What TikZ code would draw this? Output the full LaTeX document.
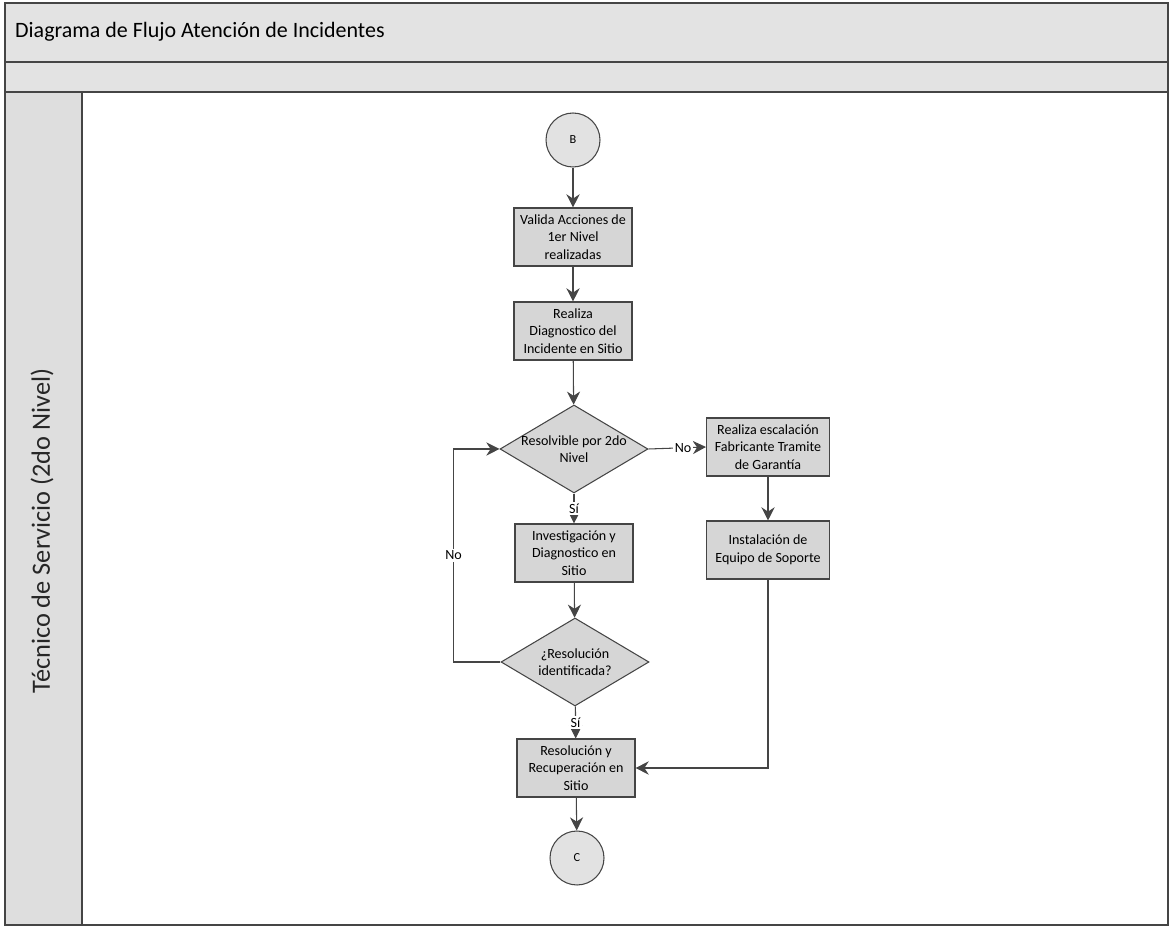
\documentclass[tikz,border=0pt]{standalone}
\usepackage{fontspec}
\setmainfont{Carlito}
\usetikzlibrary{shapes.geometric,arrows.meta}
\definecolor{bandgray}{HTML}{E3E3E3}
\definecolor{boxgray}{HTML}{D6D6D6}
\definecolor{circgray}{HTML}{E2E2E2}
\definecolor{linegray}{HTML}{454545}
\tikzset{
  stepbox/.style={draw=linegray, line width=0.6pt, fill=boxgray, minimum width=2.36cm, minimum height=1.16cm, align=center, inner sep=1pt, font=\fontsize{8}{10}\selectfont},
  dia/.style={draw=linegray, line width=0.6pt, fill=boxgray, shape=diamond, minimum width=2.96cm, minimum height=1.76cm, inner sep=0pt},
  dtext/.style={align=center, font=\fontsize{8}{10}\selectfont},
  conn/.style={draw=linegray, line width=0.6pt, fill=circgray, circle, minimum size=1.08cm, inner sep=0pt, font=\fontsize{7}{8}\selectfont},
  arr/.style={draw=linegray, line width=0.6pt, -{Stealth[length=7.5pt,width=7.5pt]}},
  lbl/.style={fill=white, inner sep=1pt, font=\fontsize{8}{9}\selectfont}
}
\begin{document}
\begin{tikzpicture}[x=0.02cm,y=-0.02cm]
\useasboundingbox (0,0) rectangle (1170,928);
% bands and lane
\path[fill=bandgray, draw=linegray, line width=0.6pt] (5,3) rectangle (1168,62);
\path[fill=bandgray, draw=linegray, line width=0.6pt] (5,62) rectangle (1168,92);
\path[fill=boxgray!80!white, draw=linegray, line width=0.6pt] (5,92) rectangle (82,925);
\draw[linegray, line width=0.6pt] (82,925) -- (1168,925) -- (1168,92);
\node[anchor=west, font=\fontsize{12.5}{14}\selectfont] (title) at (9,32) {Diagrama de Flujo Atención de Incidentes};
\node[rotate=90, text=black!85, font=\fontsize{15}{17}\selectfont] (lane) at (42,531) {Técnico de Servicio (2do Nivel)};
% nodes
\node[conn] (B) at (573,140) {B};
\node[stepbox] (b1) at (573,237) {Valida Acciones de\\1er Nivel\\realizadas};
\node[stepbox] (b2) at (573,331) {Realiza\\Diagnostico del\\Incidente en Sitio};
\node[dia, label={[dtext]center:Resolvible por 2do\\Nivel}] (d1) at (574,449) {};
\node[stepbox] (b3) at (574,553) {Investigación y\\Diagnostico en\\Sitio};
\node[dia, label={[dtext]center:¿Resolución\\identificada?}] (d2) at (575,662) {};
\node[stepbox] (b4) at (576,768) {Resolución y\\Recuperación en\\Sitio};
\node[conn] (C) at (577,858) {C};
\node[stepbox, minimum width=2.46cm] (b5) at (768,447) {Realiza escalación\\Fabricante Tramite\\de Garantía};
\node[stepbox, minimum width=2.46cm] (b6) at (768,550) {Instalación de\\Equipo de Soporte};
% connectors
\draw[arr] (B) -- (b1);
\draw[arr] (b1) -- (b2);
\draw[arr] (b2) -- (d1);
\draw[arr] (d1) -- node[lbl]{Sí} (b3);
\draw[arr] (b3) -- (d2);
\draw[arr] (d2) -- node[lbl]{Sí} (b4);
\draw[arr] (b4) -- (C);
\draw[arr] (d1.east) -- node[lbl, pos=0.6]{No} (b5.west);
\draw[arr] (b5) -- (b6);
\draw[arr] (b6.south) |- (b4.east);
\draw[arr] (d2.west) -- ++(-47,0) |- node[lbl, pos=0.25]{No} (d1.west);
\end{tikzpicture}
\end{document}
